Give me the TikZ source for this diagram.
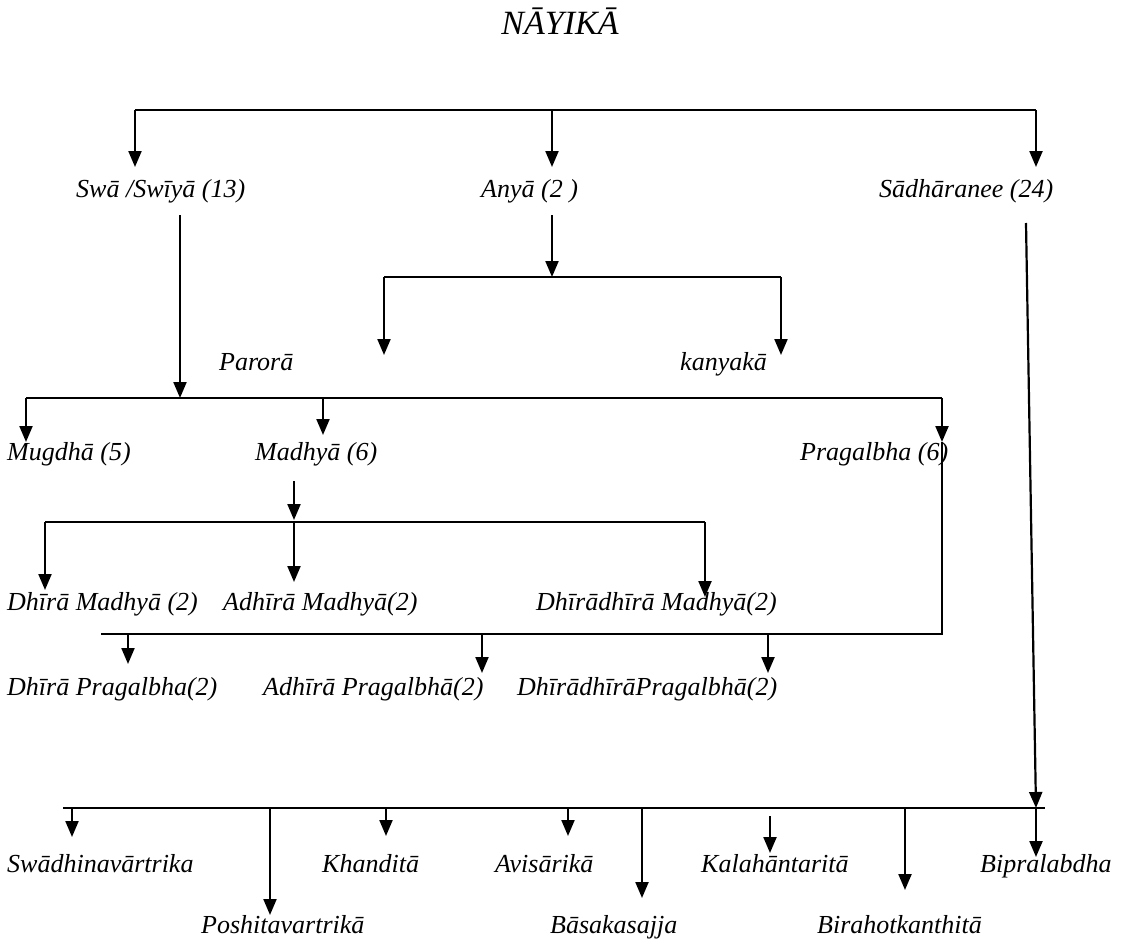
\documentclass[tikz,border=0pt]{standalone}
\usepackage{fontspec}
\setmainfont{Liberation Serif}
\usetikzlibrary{arrows.meta}
\begin{document}
\begin{tikzpicture}[x=1pt,y=-1pt,
  lbl/.style={inner sep=0pt,anchor=base west,font=\fontsize{26}{30}\selectfont\itshape},
  ttl/.style={inner sep=0pt,anchor=base,font=\fontsize{34}{40}\selectfont\itshape},
  ln/.style={line width=2.2pt},
  arr/.style={line width=2.2pt,-{Triangle[length=16pt,width=13pt]}}]
\useasboundingbox (0,0) rectangle (1128,942);
% labels
\node[ttl] (title) at (560,35) {NĀYIKĀ};
\node[lbl] (swa) at (76,197) {Swā /Swīyā (13)};
\node[lbl] (anya) at (481,197) {Anyā (2 )};
\node[lbl] (sadh) at (879,197) {Sādhāranee (24)};
\node[lbl] (parora) at (219,370) {Parorā};
\node[lbl] (kanya) at (680,370) {kanyakā};
\node[lbl] (mugdha) at (7,460) {Mugdhā (5)};
\node[lbl] (madhya) at (255,460) {Madhyā (6)};
\node[lbl] (prag) at (800,460) {Pragalbha (6)};
\node[lbl] (dm) at (7,610) {Dhīrā Madhyā (2)};
\node[lbl] (am) at (223,610) {Adhīrā Madhyā(2)};
\node[lbl] (ddm) at (536,610) {Dhīrādhīrā Madhyā(2)};
\node[lbl] (dp) at (7,695) {Dhīrā Pragalbha(2)};
\node[lbl] (ap) at (263,695) {Adhīrā Pragalbhā(2)};
\node[lbl] (ddp) at (517,695) {DhīrādhīrāPragalbhā(2)};
\node[lbl] (swad) at (7,872) {Swādhinavārtrika};
\node[lbl] (posh) at (201,933) {Poshitavartrikā};
\node[lbl] (khan) at (322,872) {Khanditā};
\node[lbl] (avis) at (495,872) {Avisārikā};
\node[lbl] (basa) at (550,933) {Bāsakasajja};
\node[lbl] (kala) at (701,872) {Kalahāntaritā};
\node[lbl] (bira) at (817,933) {Birahotkanthitā};
\node[lbl] (bipr) at (980,872) {Bipralabdha};
% junction coordinates
\coordinate (t1) at (135,110); \coordinate (t2) at (552,110); \coordinate (t3) at (1036,110);
\coordinate (swaS) at (180,215); \coordinate (anyaS) at (552,215); \coordinate (sadhS) at (1026,223);
\coordinate (a1) at (384,277); \coordinate (a2) at (552,277); \coordinate (a3) at (781,277);
\coordinate (p1) at (26,398); \coordinate (p2) at (180,398); \coordinate (p3) at (323,398); \coordinate (p4) at (942,398);
\coordinate (mS) at (294,481); \coordinate (m1) at (45,522); \coordinate (m2) at (294,522); \coordinate (m3) at (705,522);
\coordinate (g0) at (942,442); \coordinate (g1) at (101,634); \coordinate (g2) at (128,634); \coordinate (g3) at (482,634); \coordinate (g4) at (768,634); \coordinate (g5) at (942,634);
\coordinate (b0) at (63,808); \coordinate (b9) at (1045,808);
\coordinate (bS) at (1036,808);
% top level
\draw[ln] (t1) -- (t3);
\draw[arr] (t1) -- (135,167);
\draw[arr] (t2) -- (552,167);
\draw[arr] (t3) -- (1036,167);
% Anya branch
\draw[arr] (anyaS) -- (a2);
\draw[ln] (a1) -- (a3);
\draw[arr] (a1) -- (384,355);
\draw[arr] (a3) -- (781,355);
% Swa branch
\draw[arr] (swaS) -- (p2);
\draw[ln] (p1) -- (p4);
\draw[arr] (p1) -- (26,442);
\draw[arr] (p3) -- (323,435);
\draw[arr] (p4) -- (g0);
% Madhya branch
\draw[arr] (mS) -- (294,520);
\draw[ln] (m1) -- (m3);
\draw[arr] (m1) -- (45,590);
\draw[arr] (m2) -- (294,582);
\draw[arr] (m3) -- (705,597);
% Pragalbha branch
\draw[ln] (g0) -- (g5) -- (g1);
\draw[arr] (g2) -- (128,664);
\draw[arr] (g3) -- (482,673);
\draw[arr] (g4) -- (768,673);
% Sadharanee branch
\draw[arr] (sadhS) -- (bS);
\draw[ln] (b0) -- (b9);
\draw[arr] (72,808) -- (72,837);
\draw[arr] (270,808) -- (270,915);
\draw[arr] (386,808) -- (386,836);
\draw[arr] (568,808) -- (568,836);
\draw[arr] (642,808) -- (642,898);
\draw[arr] (770,816) -- (770,853);
\draw[arr] (905,808) -- (905,890);
\draw[arr] (bS) -- (1036,857);
\end{tikzpicture}
\end{document}
